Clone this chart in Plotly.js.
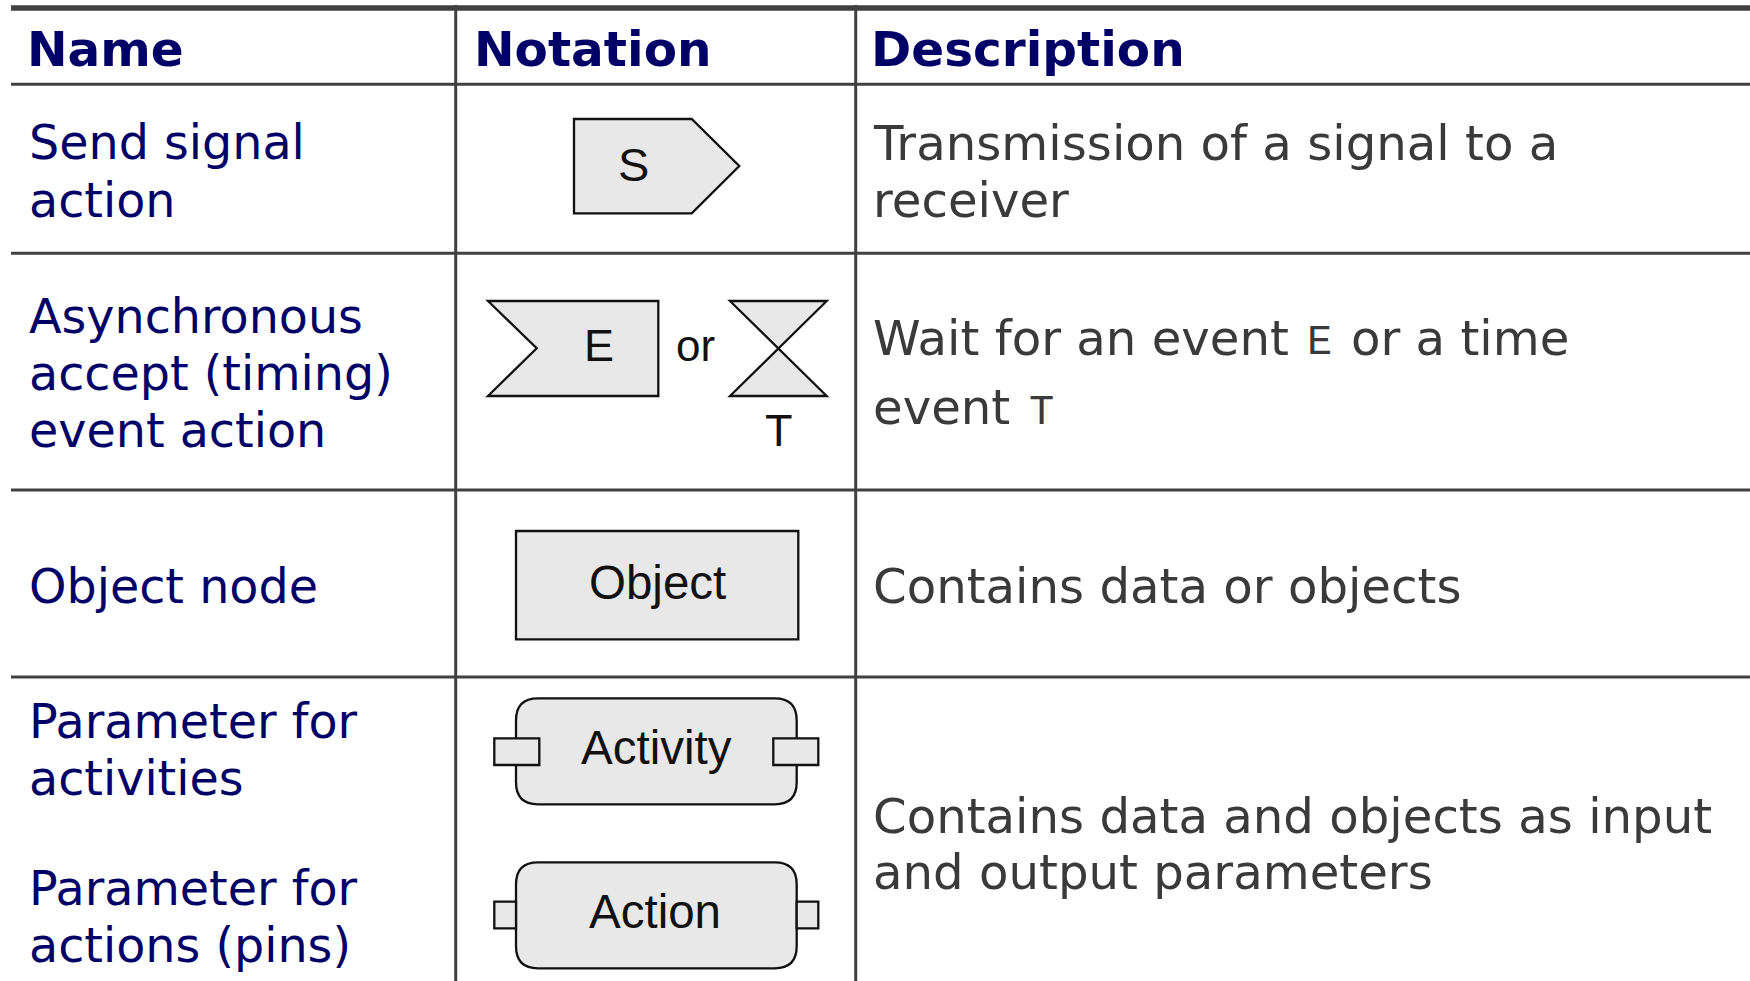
<!DOCTYPE html>
<html>
<head>
<meta charset="utf-8">
<script src="https://cdn.plot.ly/plotly-3.0.1.min.js"></script>
<style>
  html, body { margin: 0; padding: 0; background: #ffffff; }
  #chart { width: 1750px; height: 981px; }
</style>
</head>
<body>
<div id="chart"></div>
<script>
// ---- table content ----
const headers = ['Name', 'Notation', 'Description'];
const names = [
  'Send signal<br>action',
  'Asynchronous<br>accept (timing)<br>event action',
  'Object node',
  'Parameter for<br>activities',
  'Parameter for<br>actions (pins)'
];
// text between backticks is set in a monospace font
const descriptions = [
  'Transmission of a signal to a<br>receiver',
  'Wait for an event `E` or a time<br>event `T`',
  'Contains data or objects',
  'Contains data and objects as input<br>and output parameters'
];
const notationLabels = ['S', 'E', 'or', 'T', 'Object', 'Activity', 'Action'];

// ---- styling / layout geometry (pixel space) ----
const W = 1750, H = 981;
const NAVY = '#000066', GREY = '#3a3a3a', RULE = '#404040';
const SHAPE_FILL = '#e8e8e8', SHAPE_LINE = '#111111';
const BODY = 'DejaVu Sans';
const SANS = 'Liberation Sans';
const MONO = 'Liberation Mono';
const FS_HEAD = 48.5, FS_NAME = 47.6, FS_DESC = 48.2, FS_MONO = 42;
const MID = 0.346;                 // baseline -> bbox middle (em)

const shapes = [];
const annotations = [];

const ctx = document.createElement('canvas').getContext('2d');
function measure(s, family, size) {
  ctx.font = `${size}px "${family}"`;
  return ctx.measureText(s).width;
}

function hline(y, w) {
  shapes.push({type: 'line', xref: 'x', yref: 'y', x0: 11, x1: W, y0: y, y1: y,
    line: {color: RULE, width: w}});
}
function vline(x) {
  shapes.push({type: 'line', xref: 'x', yref: 'y', x0: x, x1: x, y0: 5, y1: H,
    line: {color: RULE, width: 3}});
}
function path(d) {
  shapes.push({type: 'path', xref: 'x', yref: 'y', path: d,
    fillcolor: SHAPE_FILL, line: {color: SHAPE_LINE, width: 2.3}});
}
function rect(x0, y0, x1, y1) {
  path(`M${x0},${y0} L${x1},${y0} L${x1},${y1} L${x0},${y1} Z`);
}
function roundRect(x0, y0, x1, y1, r) {
  path(`M${x0 + r},${y0} L${x1 - r},${y0} Q${x1},${y0} ${x1},${y0 + r} ` +
       `L${x1},${y1 - r} Q${x1},${y1} ${x1 - r},${y1} L${x0 + r},${y1} ` +
       `Q${x0},${y1} ${x0},${y1 - r} L${x0},${y0 + r} Q${x0},${y0} ${x0 + r},${y0} Z`);
}
function text(t, x, y, font, anchor) {
  annotations.push({text: t, x: x, y: y, xref: 'x', yref: 'y', showarrow: false,
    xanchor: anchor || 'left', yanchor: 'middle', align: 'left',
    borderpad: 0, borderwidth: 0, font: font});
}
// a line of text with `mono` segments, placed piece by piece on a shared baseline
function richLine(line, x, baseline, color) {
  const parts = line.split('`');
  let cx = x;
  parts.forEach((p, i) => {
    if (!p) return;
    const isMono = i % 2 === 1;
    const fam = isMono ? MONO : BODY;
    const size = isMono ? FS_MONO : FS_DESC;
    const lead = p.length - p.replace(/^\s+/, '').length;
    const core = p.trim();
    const startX = cx + (lead ? measure(p.slice(0, lead), fam, size) : 0) + (isMono ? 3 : 0);
    if (core) {
      const mid = isMono ? (0.833 - 0.300) / 2 : MID;
      text(core, startX, baseline - mid * size, {family: fam, size: size, color: color});
    }
    cx += measure(p, fam, size) + (isMono ? 6 : 0);
  });
}

// table rules
hline(8, 5.5);
hline(84.3, 3);
hline(253.3, 3);
hline(490, 3);
hline(677, 3);
vline(455.7);
vline(855.7);

// header
const headerX = [27, 474, 871];
headers.forEach((h, i) => text(h, headerX[i], 65.5 - MID * FS_HEAD,
  {family: BODY, size: FS_HEAD, color: NAVY, weight: 'bold'}));

// name column: baselines per row
const nameBaselines = [[159.3, 216.7], [333.3, 390, 446.7], [603.3], [738.3, 795], [905, 961.7]];
names.forEach((n, r) => {
  n.split('<br>').forEach((line, k) => {
    text(line, 29, nameBaselines[r][k] - MID * FS_NAME, {family: BODY, size: FS_NAME, color: NAVY});
  });
});

// description column
const descBaselines = [[159.3, 216.7], [354.3, 424], [602.7], [832.3, 889]];
descriptions.forEach((d, r) => {
  d.split('<br>').forEach((line, k) => {
    richLine(line, 873, descBaselines[r][k], GREY);
  });
});

// notation shapes
path('M574,119 L691.7,119 L739.3,166 L691.7,213.3 L574,213.3 Z');          // send signal
path('M488,301 L658.3,301 L658.3,396 L488,396 L536.7,348.3 Z');           // accept event
path('M730,301 L826.7,301 L730,396 L826.7,396 Z');                         // time event
rect(516, 531, 798.3, 639.3);                                               // object node
roundRect(516, 698.3, 796.7, 804.3, 22);                                    // activity
rect(494.3, 738.3, 539.3, 765);
rect(773.3, 738.3, 818.3, 765);
roundRect(516, 862.3, 796.7, 968.3, 22);                                    // action
rect(494.3, 901.7, 516, 928.3);
rect(796.7, 901.7, 818.3, 928.3);

// notation labels
const labelPos = [[633, 164.5, 47], [598.7, 345, 45], [695.7, 345, 44], [779.3, 430.5, 45],
                  [657, 582, 47.5], [656.3, 747.5, 47.5], [655, 911, 47.5]];
notationLabels.forEach((l, i) => {
  text(l, labelPos[i][0], labelPos[i][1], {family: SANS, size: labelPos[i][2], color: '#111111'}, 'center');
});

const layout = {
  width: W, height: H,
  margin: {l: 0, r: 0, t: 0, b: 0, pad: 0},
  paper_bgcolor: '#ffffff', plot_bgcolor: '#ffffff',
  xaxis: {range: [0, W], visible: false, fixedrange: true},
  yaxis: {range: [H, 0], visible: false, fixedrange: true},
  showlegend: false,
  shapes: shapes,
  annotations: annotations
};

Plotly.newPlot('chart', [{x: [], y: [], type: 'scatter', mode: 'markers', hoverinfo: 'skip'}],
  layout, {displayModeBar: false, staticPlot: true});
</script>
</body>
</html>
